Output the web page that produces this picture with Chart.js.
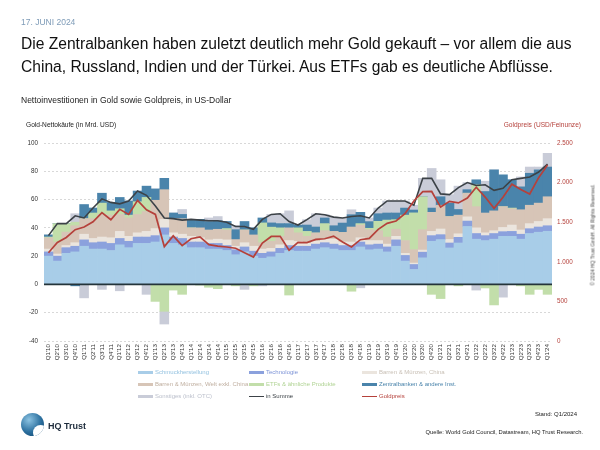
<!DOCTYPE html>
<html lang="de">
<head>
<meta charset="utf-8">
<title>Gold-Nettokäufe und Goldpreis</title>
<script src="https://cdn.jsdelivr.net/npm/chart.js@4.4.1/dist/chart.umd.min.js"></script>
<style>
  html, body { margin: 0; padding: 0; background: #fff; }
  body {
    position: relative; width: 600px; height: 450px; overflow: hidden;
    font-family: "Liberation Sans", Arial, Helvetica, sans-serif; color: #1a1a1a;
  }
  #chart { position: absolute; left: 0; top: 0; }
  .txt { position: absolute; white-space: nowrap; line-height: 1; }
  #datum  { left: 21px; top: 18px; font-size: 8.5px; color: #7f9cb8; }
  #titel  { left: 21px; top: 32px; font-size: 15.6px; line-height: 23.4px; color: #111; }
  #unter  { left: 21px; top: 96px; font-size: 8.5px; color: #222; }
  #achseL { left: 26px; top: 122px; font-size: 6.6px; color: #222; }
  #achseR { right: 19px; top: 122px; font-size: 6.6px; color: #b5413b; }
  #stand  { right: 23px; top: 411px; font-size: 6px; color: #222; }
  #quelle { right: 17px; top: 430px; font-size: 5.8px; color: #222; }
  #copy   { left: 593px; top: 235px; font-size: 5px; color: #444;
            transform: translate(-50%, -50%) rotate(-90deg); }
  #hq     { left: 48px; top: 422px; font-size: 9px; font-weight: bold; color: #1d2b3b; }
  #logo {
    position: absolute; left: 21px; top: 413px; width: 23px; height: 23px; border-radius: 50%;
    background: radial-gradient(circle at 35% 30%, #8cc3e2 0%, #2b6f9e 55%, #0f3f66 100%);
    overflow: hidden;
  }
  #logo::after {
    content: ''; position: absolute; left: 12px; top: 12px; width: 15px; height: 15px;
    border-radius: 50%; background: #fff;
  }
  .leg { position: absolute; height: 8px; font-size: 6px; line-height: 8px; white-space: nowrap; }
  .leg i { display: inline-block; width: 15px; vertical-align: middle; margin-right: 2px; }
</style>
</head>
<body>
<canvas id="chart" width="600" height="450"></canvas>

<div class="txt" id="datum">17. JUNI 2024</div>
<div class="txt" id="titel">Die Zentralbanken haben zuletzt deutlich mehr Gold gekauft – vor allem die aus<br>China, Russland, Indien und der Türkei. Aus ETFs gab es deutliche Abflüsse.</div>
<div class="txt" id="unter">Nettoinvestitionen in Gold sowie Goldpreis, in US-Dollar</div>
<div class="txt" id="achseL">Gold-Nettokäufe (in Mrd. USD)</div>
<div class="txt" id="achseR">Goldpreis (USD/Feinunze)</div>
<div class="txt" id="copy">© 2024 HQ Trust GmbH. All Rights Reserved.</div>
<div id="logo"></div>
<div class="txt" id="hq">HQ Trust</div>
<div class="txt" id="stand">Stand: Q1/2024</div>
<div class="txt" id="quelle">Quelle: World Gold Council, Datastream, HQ Trust Research.</div>
<div id="legende"></div>

<script>
// ── Daten (Mrd. USD je Quartal, Goldpreis USD/Feinunze zum Quartalsende) ──
const quarters = [
  "Q1'10","Q2'10","Q3'10","Q4'10","Q1'11","Q2'11","Q3'11","Q4'11",
  "Q1'12","Q2'12","Q3'12","Q4'12","Q1'13","Q2'13","Q3'13","Q4'13",
  "Q1'14","Q2'14","Q3'14","Q4'14","Q1'15","Q2'15","Q3'15","Q4'15",
  "Q1'16","Q2'16","Q3'16","Q4'16","Q1'17","Q2'17","Q3'17","Q4'17",
  "Q1'18","Q2'18","Q3'18","Q4'18","Q1'19","Q2'19","Q3'19","Q4'19",
  "Q1'20","Q2'20","Q3'20","Q4'20","Q1'21","Q2'21","Q3'21","Q4'21",
  "Q1'22","Q2'22","Q3'22","Q4'22","Q1'23","Q2'23","Q3'23","Q4'23","Q1'24"
];

const schmuck = [20,16.5,22,23,27,25,25,24, 28,26,29,29,30,35,29,28, 26,26,25,25,24,21,23,20,
  18.5,19.5,22,24,23.5,23.5,25,26, 25,24,24,26.5,24.5,25,23,27, 16.5,10.6,18.8,30.5,31.7,25.8,29.3,41,
  32,31,32,34,34,32,36,36.9,37.6];
const technologie = [3,3.5,4,4,4.5,4.5,5,5, 4.5,4.5,4.5,4.5,4.5,5,4.5,4.5, 4,4,4,4,3.5,3.5,3.5,3.5,
  3.5,3.5,3.5,3.5,3.5,3.5,3.5,3.5, 3.5,3.5,3.5,3.5,3.5,3.5,3.5,4.5, 4,3.5,4,4,3.5,3.5,4,3.8,
  4,3.5,4,3.3,3.5,3.5,3.4,3.7,3.9];
const barrenChina = [2,1.5,1.5,2.5,4,3,3.5,4, 5,3.5,3,4,5,6,3,3, 4,3,2.5,3,4,2.5,3,3.5,
  3,2.5,2.5,3.5,3.5,2,2,2.5, 3.5,2.5,2.5,3,3,2.5,2,2.5, 1.5,1,1.5,3,4,2.5,2.5,3,
  4,2,2,3,4.5,3,3.6,3.9,5];
const barrenWelt = [8,8.5,9.5,12,11,14,16,16, 12,13,13,14,20,21,10,11, 6,7,7,7,7,4.7,9,8,
  4.5,5,6,9,6,5,5.9,6, 5.5,6.8,10.6,9,7.7,7,5,5, 9,9.5,14.4,13.5,16.8,16.2,13.2,16.7,
  15,14,14,14.7,11.5,14.3,13,13,15.5];
const etfs = [0.5,13,6,2.5,0,4,8,3, 4,2,9,10,-12,-19,-4,-7, 0,-0.5,-2,-3,1,-1,0,-1,
  14,10,6,-7.5,3.5,3.5,0,5, 0,0,-4.8,1,1,6.6,12,6.8, 18,26,23.3,-7,-10,0,-1,0,
  15.4,-2.5,-14.5,0,0.5,-1,-7,-3.5,-7];
const zentralbanken = [1.5,0,0,-1,10,3.5,7,6, 8,10,7.5,8,8,8,4,3, 6,6,6,6,5,7,6,5,
  3.5,3,3,3,2,4.5,4.2,4, 4,6.6,8.7,8,4.7,5.4,5,4.7, 5,2,0,3,6,9.5,4,2.5,
  3.6,15.2,29,22.5,20,16.2,22.6,23.5,21];
const sonstiges = [0,0,0,6,-9.5,0,-3.5,0, -4.5,0,0,-7,0,-9,0,3.5, 0,0,2.5,3,0,3,-3.5,0,
  -1,6,7,9,0,3.8,9.4,2.3, 6.1,3.6,3.5,-2.4,2.6,4,8.5,8.5, 5,3.4,13,28,12,6,16.5,5,
  -4,7.3,0,-9,0,7,4.4,2,9.7];
const inSumme = [34.5,43,43,48.5,47,54,60.5,58, 57,59,66,63,55.5,47,46.5,45.5, 46,45.5,45,45,44,41,41,39,
  46,49.5,50,44.5,42,45.8,50,49.3, 47.6,47,48,48.6,47,54,59,59, 59,56,75,75,64,63.5,68.5,72,
  70,70.5,66.5,68,74,75,76,79.5,85];
const goldpreis = [1115,1244,1307,1405,1439,1505,1620,1531, 1662,1598,1776,1657,1598,1192,1327,1204,
  1291,1315,1216,1199,1187,1171,1114,1060, 1237,1320,1322,1146,1244,1243,1283,1291,
  1324,1250,1187,1279,1295,1409,1485,1515, 1608,1768,1887,1888,1691,1763,1743,1806,
  1942,1817,1675,1814,1980,1912,1856,2062,2222];

const tickLinks  = [-40, -20, 0, 20, 40, 60, 80, 100];
const tickRechts = [0, 500, 1000, 1500, 2000, 2500];

const balkenNamen = ['Schmuckherstellung','Technologie','Barren & Münzen, China',
  'Barren & Münzen, Welt exkl. China','ETFs & ähnliche Produkte','Zentralbanken & andere Inst.','Sonstiges (inkl. OTC)'];
const balkenDaten  = [schmuck, technologie, barrenChina, barrenWelt, etfs, zentralbanken, sonstiges];
const balkenFarben = ['#a8cde8','#8ba1dd','#ebe5de','#d7c5b7','#c2deaa','#4a84ab','#c9ccd8'];
const textFarben   = ['#94c2e0','#7d93d6','#c9c0b6','#bfae9f','#b0d394','#4a84ab','#bcc0cc','#3c4247','#b5413b'];
const farbeSumme = '#3c4247';
const farbeGold  = '#b5413b';

// ── Legende (3 Spalten) ──
(function(){
  const box = document.getElementById('legende');
  const namen  = balkenNamen.concat(['in Summe','Goldpreis']);
  const farben = balkenFarben.concat([farbeSumme, farbeGold]);
  const spalten = [138, 249, 362];
  const zeilen  = [368, 380, 392];
  namen.forEach((n, i) => {
    const el = document.createElement('div');
    el.className = 'leg';
    el.style.left = spalten[i % 3] + 'px';
    el.style.top  = zeilen[Math.floor(i / 3)] + 'px';
    el.style.color = textFarben[i];
    const h = i < 7 ? 3 : 1.5;
    el.innerHTML = `<i style="height:${h}px;background:${farben[i]}"></i>${n}`;
    box.appendChild(el);
  });
})();

// ── Nulllinie über den Balken ──
const nullLinie = {
  id: 'nullLinie',
  afterDatasetsDraw(chart) {
    const { ctx, chartArea, scales } = chart;
    const y = scales.y.getPixelForValue(0);
    ctx.save();
    ctx.strokeStyle = '#24343a';
    ctx.lineWidth = 1.8;
    ctx.beginPath();
    ctx.moveTo(chartArea.left, y);
    ctx.lineTo(chartArea.right, y);
    ctx.stroke();
    ctx.restore();
  }
};

const fmt = v => String(v).replace(/\B(?=(\d{3})+(?!\d))/g, '.');

const datasets = balkenDaten.map((d, i) => ({
  type: 'bar', label: balkenNamen[i], data: d,
  backgroundColor: balkenFarben[i], borderWidth: 0,
  barPercentage: 1, categoryPercentage: 1,
  stack: 'balken', yAxisID: 'y', order: 3
}));
datasets.push({
  type: 'line', label: 'in Summe', data: inSumme, borderColor: farbeSumme,
  borderWidth: 1.6, pointRadius: 0, tension: 0, stack: 'summe', yAxisID: 'y', order: 2
});
datasets.push({
  type: 'line', label: 'Goldpreis', data: goldpreis, borderColor: farbeGold,
  borderWidth: 1.7, pointRadius: 0, tension: 0, yAxisID: 'y2', order: 1
});

new Chart(document.getElementById('chart'), {
  data: { labels: quarters, datasets },
  plugins: [nullLinie],
  options: {
    responsive: false, animation: false, devicePixelRatio: 1,
    layout: { padding: { left: 18, right: 18, top: 143, bottom: 87 } },
    plugins: { legend: { display: false }, tooltip: { enabled: false } },
    scales: {
      x: {
        stacked: true, offset: true,
        grid: { display: false, drawTicks: false },
        border: { display: false },
        ticks: {
          autoSkip: false, minRotation: 90, maxRotation: 90, padding: 3,
          color: '#333', font: { family: 'Liberation Sans', size: 6.2 }
        },
        afterFit: s => { s.height = 22; }
      },
      y: {
        position: 'left', stacked: true, min: -40, max: 100,
        afterBuildTicks: s => { s.ticks = tickLinks.map(v => ({ value: v })); },
        grid: { color: '#cfcfcf', lineWidth: 0.8, drawTicks: false },
        border: { display: false, dash: [2, 2] },
        ticks: { padding: 6, color: '#333', font: { family: 'Liberation Sans', size: 6.3 } },
        afterFit: s => { s.width = 26; }
      },
      y2: {
        position: 'right', min: 0, max: 2500,
        afterBuildTicks: s => { s.ticks = tickRechts.map(v => ({ value: v })); },
        grid: { drawOnChartArea: false, drawTicks: false },
        border: { display: false },
        ticks: {
          padding: 5, color: '#b5413b', font: { family: 'Liberation Sans', size: 6.3 },
          callback: v => fmt(v)
        },
        afterFit: s => { s.width = 30; }
      }
    }
  }
});
</script>
</body>
</html>
